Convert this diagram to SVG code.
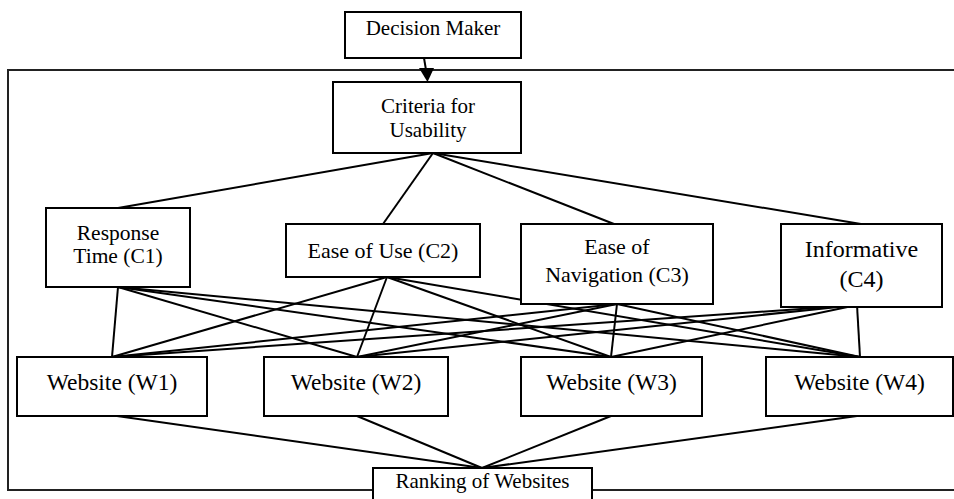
<svg xmlns="http://www.w3.org/2000/svg" width="954" height="499" viewBox="0 0 954 499">
<style>
.box{fill:#fff;stroke:#000;stroke-width:2}
.t{fill:#000;text-anchor:middle;font-family:Liberation Serif, serif}
.c{stroke:#000;stroke-width:2;fill:none}
</style>
<rect width="954" height="499" fill="#fff"/>
<rect id="frame" x="8" y="70" width="960" height="420" fill="none" stroke="#222" stroke-width="2"/>
<g id="connectors">
<line class="c" x1="424" y1="58" x2="426" y2="70"/>
<polygon points="419,68 434,68 427.5,82" fill="#000"/>
<line class="c" x1="433" y1="153" x2="118" y2="208"/>
<line class="c" x1="433" y1="153" x2="383" y2="224"/>
<line class="c" x1="433" y1="153" x2="614" y2="224"/>
<line class="c" x1="433" y1="153" x2="861" y2="224"/>
<line class="c" x1="118" y1="287" x2="112" y2="357"/>
<line class="c" x1="118" y1="287" x2="357" y2="357"/>
<line class="c" x1="118" y1="287" x2="611" y2="357"/>
<line class="c" x1="118" y1="287" x2="860" y2="357"/>
<line class="c" x1="387" y1="277" x2="112" y2="357"/>
<line class="c" x1="387" y1="277" x2="357" y2="357"/>
<line class="c" x1="387" y1="277" x2="611" y2="357"/>
<line class="c" x1="387" y1="277" x2="860" y2="357"/>
<line class="c" x1="617" y1="304" x2="112" y2="357"/>
<line class="c" x1="617" y1="304" x2="357" y2="357"/>
<line class="c" x1="617" y1="304" x2="611" y2="357"/>
<line class="c" x1="617" y1="304" x2="860" y2="357"/>
<line class="c" x1="857" y1="305" x2="112" y2="357"/>
<line class="c" x1="857" y1="305" x2="357" y2="357"/>
<line class="c" x1="857" y1="305" x2="611" y2="357"/>
<line class="c" x1="857" y1="305" x2="860" y2="357"/>
<line class="c" x1="117" y1="416" x2="482" y2="468"/>
<line class="c" x1="357" y1="416" x2="482" y2="468"/>
<line class="c" x1="611" y1="416" x2="482" y2="468"/>
<line class="c" x1="857" y1="416" x2="482" y2="468"/>
</g>
<g id="decision-maker">
<rect class="box" x="345" y="12" width="176" height="46"/>
<text class="t" x="433" y="35" font-size="21">Decision Maker</text>
</g>
<g id="criteria">
<rect class="box" x="333" y="82" width="188" height="71"/>
<text class="t" x="428" y="113" font-size="21">Criteria for</text>
<text class="t" x="428" y="137" font-size="21">Usability</text>
</g>
<g id="c1">
<rect class="box" x="46" y="208" width="144" height="79"/>
<text class="t" x="118" y="240" font-size="21.5">Response</text>
<text class="t" x="118" y="263" font-size="21.5">Time (C1)</text>
</g>
<g id="c2">
<rect class="box" x="286" y="224" width="194" height="53"/>
<text class="t" x="383" y="258" font-size="22">Ease of Use (C2)</text>
</g>
<g id="c3">
<rect class="box" x="521" y="224" width="192" height="80"/>
<text class="t" x="617" y="254" font-size="22">Ease of</text>
<text class="t" x="617" y="282" font-size="22">Navigation (C3)</text>
</g>
<g id="c4">
<rect class="box" x="781" y="224" width="161" height="83"/>
<text class="t" x="861.5" y="257" font-size="24">Informative</text>
<text class="t" x="861.5" y="287" font-size="24">(C4)</text>
</g>
<g id="w1">
<rect class="box" x="17" y="357" width="190" height="59"/>
<text class="t" x="112" y="390" font-size="23.5">Website (W1)</text>
</g>
<g id="w2">
<rect class="box" x="264" y="357" width="184" height="59"/>
<text class="t" x="356" y="390" font-size="23.5">Website (W2)</text>
</g>
<g id="w3">
<rect class="box" x="521" y="357" width="181" height="59"/>
<text class="t" x="611.5" y="390" font-size="23.5">Website (W3)</text>
</g>
<g id="w4">
<rect class="box" x="766" y="357" width="187" height="59"/>
<text class="t" x="859.5" y="390" font-size="23.5">Website (W4)</text>
</g>
<g id="ranking">
<rect class="box" x="373" y="468" width="219" height="45"/>
<text class="t" x="482.5" y="488" font-size="21">Ranking of Websites</text>
</g>
</svg>
